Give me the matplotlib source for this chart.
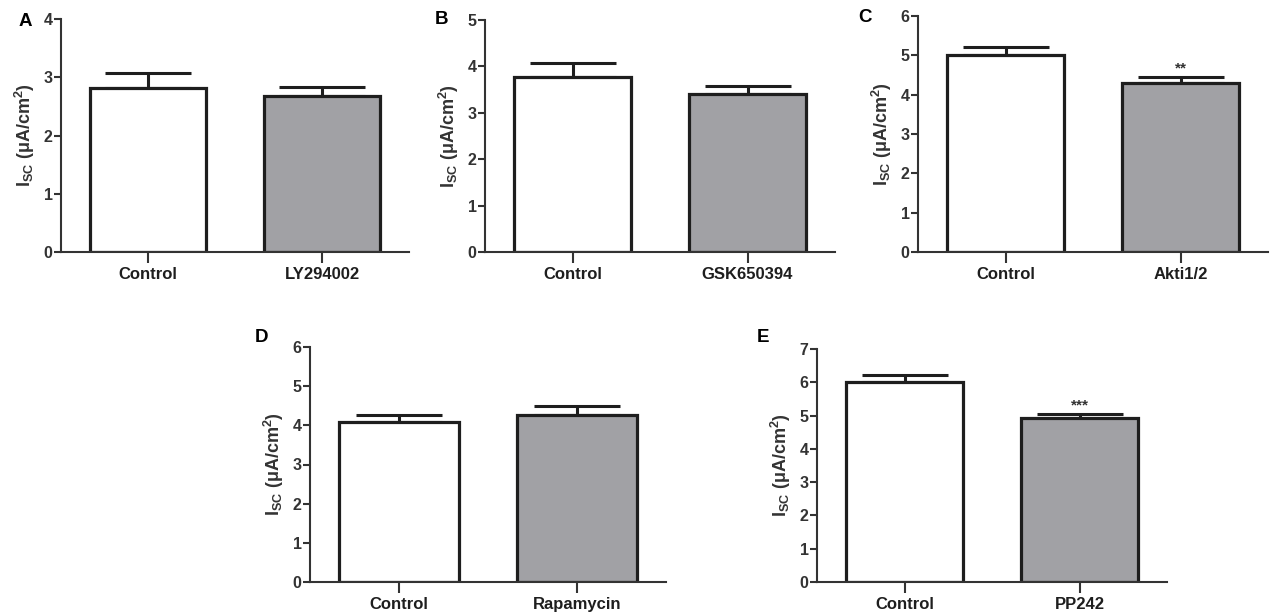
import matplotlib
matplotlib.use('Agg')
import matplotlib.pyplot as plt

plt.rcParams['font.family'] = ['Liberation Sans', 'DejaVu Sans']
plt.rcParams['font.weight'] = 'bold'
plt.rcParams['axes.labelweight'] = 'bold'
plt.rcParams['mathtext.fontset'] = 'custom'
plt.rcParams['mathtext.rm'] = 'Liberation Sans:bold'
plt.rcParams['mathtext.bf'] = 'Liberation Sans:bold'

# Данные по панелям
panel_letters = ['A', 'B', 'C', 'D', 'E']
treatments = ['LY294002', 'GSK650394', 'Akti1/2', 'Rapamycin', 'PP242']
control_means = [2.82, 3.77, 5.02, 4.09, 6.02]
control_sem = [0.26, 0.30, 0.20, 0.18, 0.20]
treat_means = [2.68, 3.40, 4.29, 4.26, 4.92]
treat_sem = [0.15, 0.18, 0.16, 0.23, 0.12]
y_max = [4, 5, 6, 6, 7]
stars = ['', '', '**', '', '***']

# Положение осей в пикселях: (лево, низ, ширина, высота)
W, H = 1270, 615
boxes = [(61, 363, 348, 233), (485, 363, 350, 232), (918, 363, 350, 236),
         (310, 33, 356, 235), (817, 33, 350, 233)]
letter_pos = [(25, 22), (442, 20), (865, 18), (262, 338), (763, 338)]

fig = plt.figure(figsize=(W / 100, H / 100), dpi=100)
dark = '#1e1e1e'
gray = '#a1a1a5'

for i in range(5):
    l, b, w, h = boxes[i]
    ax = fig.add_axes([l / W, b / H, w / W, h / H])
    x = [0, 1]
    means = [control_means[i], treat_means[i]]
    sems = [control_sem[i], treat_sem[i]]
    ax.errorbar(x, means, yerr=[[0, 0], sems], fmt='none', ecolor=dark,
                elinewidth=2.2, capsize=31, capthick=2.2, zorder=1)
    ax.bar(x, means, width=0.67, color=['white', gray], edgecolor=dark,
           linewidth=2.3, zorder=2)
    if stars[i]:
        ax.text(1, means[1] + sems[1] + 0.05 * y_max[i] / 6, stars[i],
                ha='center', va='bottom', fontsize=11, color='#333333')
    ax.set_xlim(-0.5, 1.5)
    ax.set_ylim(0, y_max[i])
    ax.set_yticks(range(0, y_max[i] + 1))
    ax.set_xticks(x)
    ax.set_xticklabels(['Control', treatments[i]], fontsize=12, color=dark)
    ax.tick_params(axis='y', labelsize=11.5, width=1.5, length=5, colors='#333333', pad=1)
    ax.tick_params(axis='x', width=1.5, length=8, color='#333333', pad=3)
    for side in ['top', 'right']:
        ax.spines[side].set_visible(False)
    for side in ['left', 'bottom']:
        ax.spines[side].set_linewidth(1.5)
        ax.spines[side].set_color('#333333')
    ax.set_ylabel(r'I$_{\mathbf{SC}}$ (μA/cm$^{\mathbf{2}}$)', fontsize=13,
                  fontweight='bold', color='#333333', labelpad=5)
    ax.patch.set_alpha(0)
    lx, ly = letter_pos[i]
    fig.text(lx / W, 1 - ly / H, panel_letters[i], fontsize=13.5,
             ha='center', va='center', color='black')

fig.savefig('out.png', dpi=100)
